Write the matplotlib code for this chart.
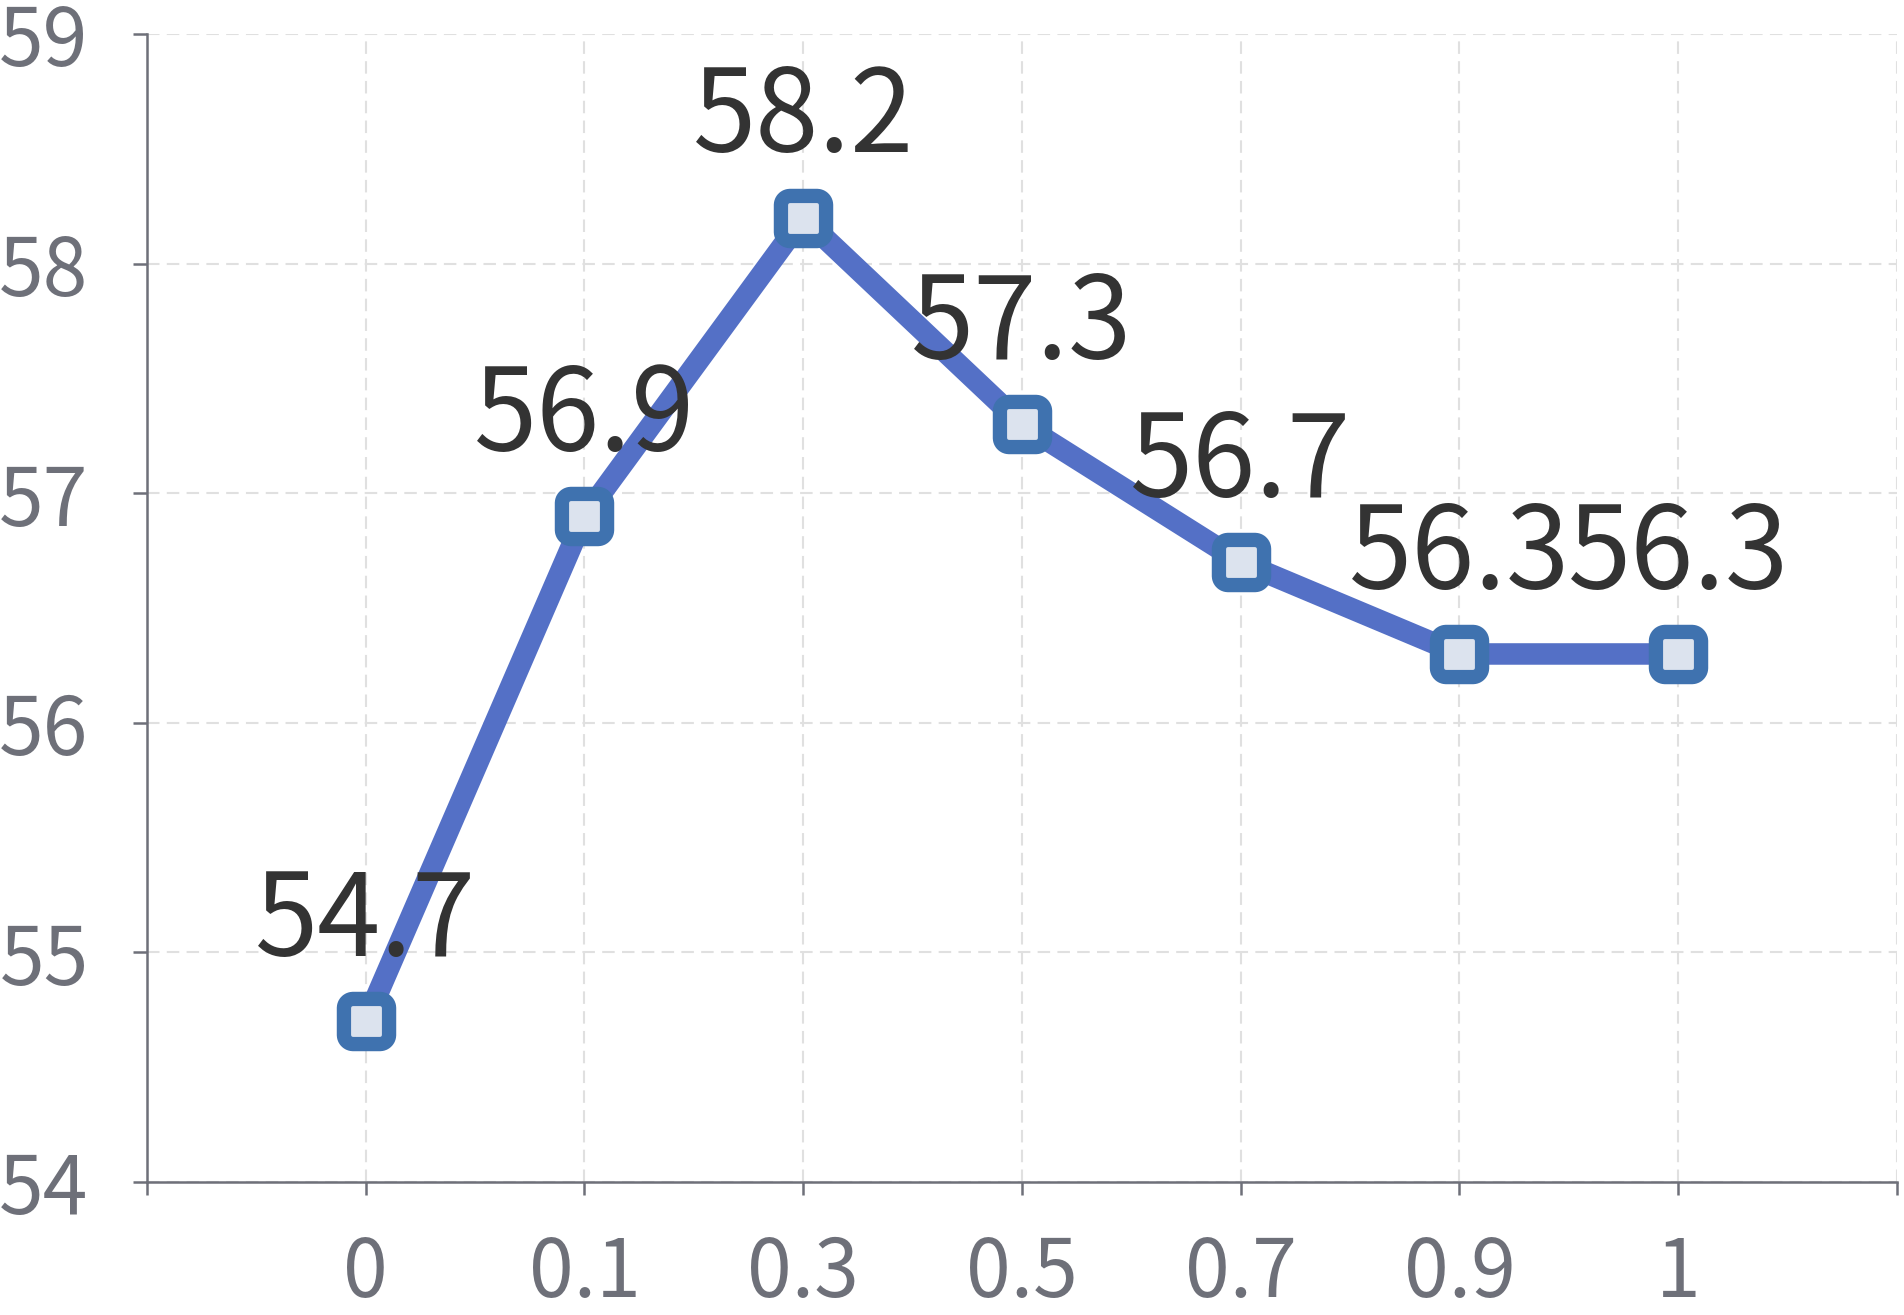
import matplotlib
matplotlib.use('Agg')
import matplotlib.pyplot as plt
import numpy as np
from matplotlib.path import Path

plt.rcParams['font.family'] = ['Noto Sans CJK SC', 'DejaVu Sans']

# data
categories = ['0', '0.1', '0.3', '0.5', '0.7', '0.9', '1']
values = [54.7, 56.9, 58.2, 57.3, 56.7, 56.3, 56.3]
y_ticks = [54, 55, 56, 57, 58, 59]

axis_color = '#6e7079'
grid_color = '#e0e0e0'

# rounded square marker shape
r = 0.4
verts = []
for cx, cy, a0 in [(1 - r, 1 - r, 0), (-1 + r, 1 - r, 90), (-1 + r, -1 + r, 180), (1 - r, -1 + r, 270)]:
    for a in np.radians(np.linspace(a0, a0 + 90, 8)):
        verts.append((cx + r * np.cos(a), cy + r * np.sin(a)))
verts.append(verts[0])
rsquare = Path(verts, closed=True)

fig = plt.figure(figsize=(19.04, 13.15), dpi=100)
ax = fig.add_axes([0.0772, 0.1011, 0.9191, 0.873])

x = list(range(len(categories)))
ax.plot(x, values, color='#5470c6', linewidth=15.5, marker=rsquare,
        markersize=32.5, markerfacecolor='#dce3ee', markeredgecolor='#3f72af',
        markeredgewidth=10.3, solid_joinstyle='round', zorder=3)

for xi, v in zip(x, values):
    ax.annotate(f'{v:.1f}', (xi, v), xytext=(0, 47), textcoords='offset points',
                ha='center', va='baseline', fontsize=82, color='#333333', zorder=4)

ax.set_xlim(-1, len(categories))
ax.set_ylim(54, 59)

ax.set_xticks(range(-1, len(categories) + 1))
ax.set_xticklabels([''] + categories + [''])
ax.set_yticks(y_ticks)
ax.set_yticklabels([str(t) for t in y_ticks])

ax.tick_params(axis='x', length=9, width=1.8, color=axis_color, labelcolor=axis_color,
               labelsize=58, pad=27)
ax.tick_params(axis='y', length=10, width=1.8, color=axis_color, labelcolor=axis_color,
               labelsize=58, pad=32)

ax.grid(True, color=grid_color, linestyle=(0, (6, 3.5)), linewidth=1.5, zorder=0)
ax.set_axisbelow(True)

for side in ['top', 'right']:
    ax.spines[side].set_visible(False)
for side in ['left', 'bottom']:
    ax.spines[side].set_color(axis_color)
    ax.spines[side].set_linewidth(1.8)

plt.savefig('out.png', dpi=100)
